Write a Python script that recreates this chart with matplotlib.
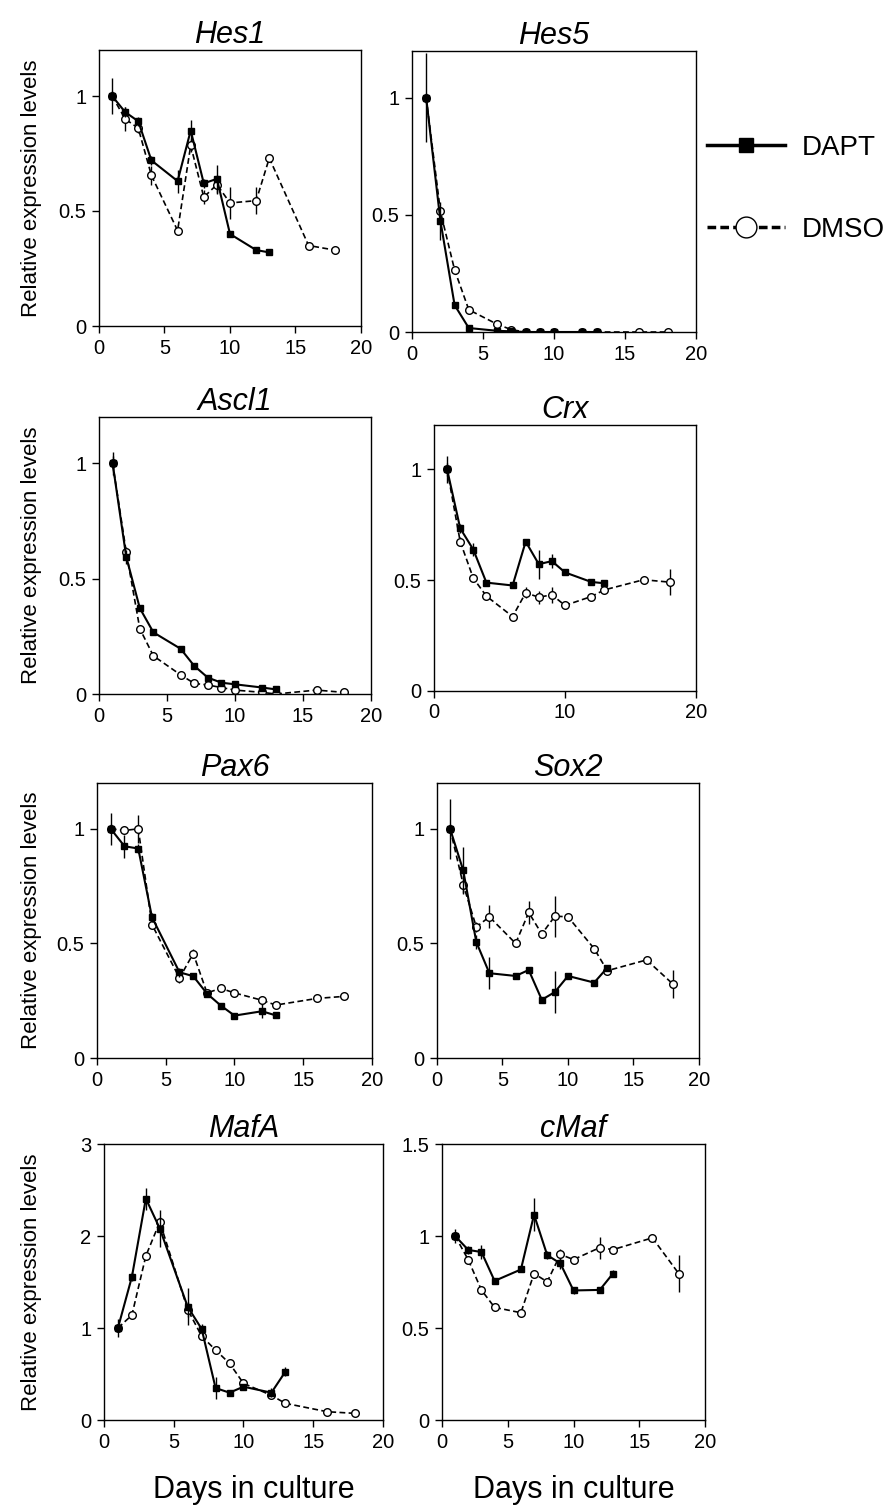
import matplotlib
matplotlib.use("Agg")
import matplotlib.pyplot as plt
from matplotlib.lines import Line2D

plt.rcParams['font.family'] = ['Liberation Sans', 'DejaVu Sans']

# days sampled
dapt_days = [1, 2, 3, 4, 6, 7, 8, 9, 10, 12, 13]
dmso_days = [1, 2, 3, 4, 6, 7, 8, 9, 10, 12, 13, 16, 18]

# relative expression (mean, error)
hes1_dapt = [1.0, 0.93, 0.89, 0.72, 0.63, 0.85, 0.62, 0.64, 0.40, 0.33, 0.32]
hes1_dapt_err = [0.08, 0.02, 0.02, 0.02, 0.05, 0.045, 0.02, 0.06, 0.01, 0.01, 0.01]
hes1_dmso = [1.0, 0.90, 0.86, 0.655, 0.415, 0.785, 0.56, 0.615, 0.535, 0.545, 0.73, 0.35, 0.33]
hes1_dmso_err = [0.02, 0.05, 0.02, 0.04, 0.01, 0.03, 0.03, 0.04, 0.07, 0.06, 0.01, 0.01, 0.01]

hes5_dapt = [1.0, 0.475, 0.115, 0.017, 0.005, 0.003, 0.0, 0.0, 0.0, 0.0, 0.0]
hes5_dapt_err = [0.19, 0.08, 0.01, 0.005, 0.0, 0.0, 0.0, 0.0, 0.0, 0.0, 0.0]
hes5_dmso = [1.0, 0.515, 0.265, 0.095, 0.033, 0.01, 0.0, 0.0, 0.0, 0.0, 0.0, 0.0, 0.0]
hes5_dmso_err = [0.02, 0.02, 0.01, 0.01, 0.005, 0.0, 0.0, 0.0, 0.0, 0.0, 0.0, 0.0, 0.0]

ascl1_dapt = [1.0, 0.595, 0.372, 0.267, 0.196, 0.122, 0.071, 0.049, 0.042, 0.028, 0.02]
ascl1_dapt_err = [0.05, 0.03, 0.01, 0.01, 0.01, 0.01, 0.005, 0.005, 0.005, 0.005, 0.005]
ascl1_dmso = [1.0, 0.616, 0.283, 0.165, 0.083, 0.046, 0.039, 0.028, 0.017, 0.007, 0.0, 0.017, 0.007]
ascl1_dmso_err = [0.03, 0.02, 0.01, 0.01, 0.005, 0.005, 0.005, 0.005, 0.005, 0.005, 0.005, 0.005, 0.005]

crx_dapt = [1.0, 0.734, 0.638, 0.489, 0.476, 0.674, 0.572, 0.586, 0.535, 0.492, 0.486]
crx_dapt_err = [0.06, 0.02, 0.03, 0.01, 0.01, 0.01, 0.065, 0.03, 0.01, 0.01, 0.01]
crx_dmso = [1.0, 0.674, 0.509, 0.428, 0.336, 0.443, 0.423, 0.434, 0.386, 0.426, 0.456, 0.502, 0.491]
crx_dmso_err = [0.03, 0.02, 0.01, 0.01, 0.01, 0.025, 0.03, 0.035, 0.01, 0.01, 0.01, 0.01, 0.06]

pax6_dapt = [1.0, 0.924, 0.914, 0.614, 0.374, 0.357, 0.281, 0.229, 0.185, 0.204, 0.186]
pax6_dapt_err = [0.07, 0.05, 0.02, 0.02, 0.02, 0.01, 0.01, 0.01, 0.01, 0.03, 0.01]
pax6_dmso = [1.0, 0.993, 1.0, 0.582, 0.349, 0.456, 0.284, 0.304, 0.284, 0.252, 0.231, 0.26, 0.269]
pax6_dmso_err = [0.02, 0.01, 0.06, 0.02, 0.02, 0.02, 0.01, 0.01, 0.01, 0.02, 0.01, 0.01, 0.01]

sox2_dapt = [1.0, 0.819, 0.506, 0.37, 0.358, 0.384, 0.254, 0.288, 0.358, 0.329, 0.394]
sox2_dapt_err = [0.13, 0.10, 0.03, 0.07, 0.01, 0.01, 0.01, 0.09, 0.01, 0.01, 0.01]
sox2_dmso = [1.0, 0.757, 0.572, 0.616, 0.50, 0.635, 0.541, 0.619, 0.616, 0.477, 0.381, 0.428, 0.323]
sox2_dmso_err = [0.02, 0.04, 0.02, 0.05, 0.01, 0.05, 0.01, 0.09, 0.01, 0.01, 0.01, 0.01, 0.06]

mafa_dapt = [1.0, 1.556, 2.407, 2.081, 1.23, 0.99, 0.347, 0.297, 0.362, 0.297, 0.525]
mafa_dapt_err = [0.1, 0.05, 0.12, 0.2, 0.2, 0.05, 0.12, 0.03, 0.03, 0.05, 0.05]
mafa_dmso = [1.0, 1.14, 1.784, 2.153, 1.2, 0.912, 0.76, 0.615, 0.398, 0.268, 0.181, 0.09, 0.072]
mafa_dmso_err = [0.02, 0.03, 0.03, 0.05, 0.08, 0.03, 0.02, 0.02, 0.02, 0.02, 0.02, 0.02, 0.02]

cmaf_dapt = [1.0, 0.924, 0.913, 0.756, 0.818, 1.116, 0.896, 0.851, 0.704, 0.707, 0.796]
cmaf_dapt_err = [0.04, 0.02, 0.04, 0.01, 0.01, 0.09, 0.02, 0.03, 0.02, 0.01, 0.02]
cmaf_dmso = [1.0, 0.87, 0.706, 0.612, 0.583, 0.796, 0.751, 0.90, 0.872, 0.937, 0.926, 0.99, 0.796]
cmaf_dmso_err = [0.02, 0.02, 0.02, 0.02, 0.01, 0.01, 0.01, 0.03, 0.01, 0.06, 0.01, 0.01, 0.1]

W, H = 887, 1510
fig = plt.figure(figsize=(W / 100, H / 100), dpi=100)


def px_axes(left, right, top, bottom):
    return fig.add_axes([left / W, 1 - bottom / H, (right - left) / W, (bottom - top) / H])


# name, data, box in pixels (left, right, top, bottom), y-limit, y-ticks, x-ticks
panels = [
    ("Hes1", hes1_dapt, hes1_dapt_err, hes1_dmso, hes1_dmso_err, (99, 361, 50, 326),
     1.2, [0, 0.5, 1], [0, 5, 10, 15, 20]),
    ("Hes5", hes5_dapt, hes5_dapt_err, hes5_dmso, hes5_dmso_err, (412, 696, 51, 332),
     1.2, [0, 0.5, 1], [0, 5, 10, 15, 20]),
    ("Ascl1", ascl1_dapt, ascl1_dapt_err, ascl1_dmso, ascl1_dmso_err, (99, 371, 417, 694),
     1.2, [0, 0.5, 1], [0, 5, 10, 15, 20]),
    ("Crx", crx_dapt, crx_dapt_err, crx_dmso, crx_dmso_err, (434, 696, 425, 691),
     1.2, [0, 0.5, 1], [0, 10, 20]),
    ("Pax6", pax6_dapt, pax6_dapt_err, pax6_dmso, pax6_dmso_err, (97, 372, 783, 1058),
     1.2, [0, 0.5, 1], [0, 5, 10, 15, 20]),
    ("Sox2", sox2_dapt, sox2_dapt_err, sox2_dmso, sox2_dmso_err, (437, 699, 783, 1058),
     1.2, [0, 0.5, 1], [0, 5, 10, 15, 20]),
    ("MafA", mafa_dapt, mafa_dapt_err, mafa_dmso, mafa_dmso_err, (104, 383, 1144, 1420),
     3.0, [0, 1, 2, 3], [0, 5, 10, 15, 20]),
    ("cMaf", cmaf_dapt, cmaf_dapt_err, cmaf_dmso, cmaf_dmso_err, (442, 705, 1144, 1420),
     1.5, [0, 0.5, 1, 1.5], [0, 5, 10, 15, 20]),
]

for i, (name, dapt, dapt_err, dmso, dmso_err, box, ymax, yticks, xticks) in enumerate(panels):
    ax = px_axes(*box)
    ax.errorbar(dmso_days, dmso, yerr=dmso_err, color="black", ls=(0, (3.5, 2)), lw=1.2,
                marker="o", ms=5.5, mfc="white", mec="black", mew=1.0,
                elinewidth=1.0, capsize=0, zorder=2)
    ax.errorbar(dapt_days, dapt, yerr=dapt_err, color="black", ls="-", lw=1.5,
                marker="s", ms=5, mfc="black", mec="black",
                elinewidth=1.0, capsize=0, zorder=3)
    ax.set_xlim(0, 20)
    ax.set_ylim(0, ymax)
    ax.set_xticks(xticks)
    ax.set_yticks(yticks)
    ax.set_yticklabels([f"{t:g}" for t in yticks])
    ax.tick_params(direction="out", length=5, width=1, labelsize=14.5, pad=4)
    for s in ax.spines.values():
        s.set_linewidth(1.0)
    ax.set_title(name, fontsize=22, fontstyle="italic", pad=5)

    left, right, top, bottom = box
    if i % 2 == 0:
        fig.text(32 / W, 1 - (top + bottom) / 2 / H, "Relative expression levels",
                 rotation=90, ha="center", va="center", fontsize=16)
    if i >= 6:
        fig.text((left + right) / 2 / W + 10 / W if i == 6 else (left + right) / 2 / W,
                 1 - 1490 / H, "Days in culture", ha="center", va="center", fontsize=22)

handles = [
    Line2D([], [], color="black", ls="-", lw=2.5, marker="s", ms=10, mfc="black"),
    Line2D([], [], color="black", ls=(0, (2.5, 1.2)), lw=2.5, marker="o", ms=15,
           mfc="white", mec="black", mew=1.0),
]
fig.legend(handles, ["DAPT", "DMSO"], loc="upper left",
           bbox_to_anchor=(707 / W, 1 - 135 / H), frameon=False, fontsize=20,
           handlelength=2.8, handletextpad=0.6, labelspacing=2.0,
           borderpad=0, borderaxespad=0)

fig.savefig("out.png", dpi=100)
